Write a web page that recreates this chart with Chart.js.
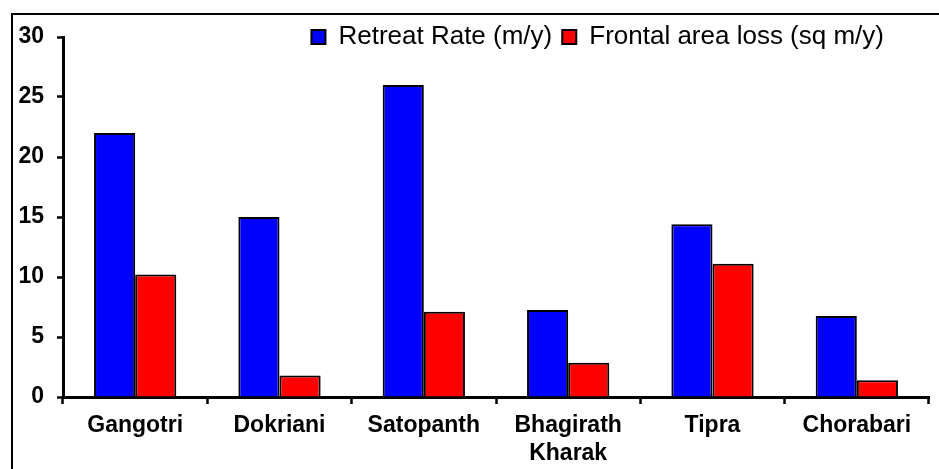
<!DOCTYPE html>
<html>
<head>
<meta charset="utf-8">
<title>Glacier retreat</title>
<script src="https://cdn.jsdelivr.net/npm/chart.js@4.4.1/dist/chart.umd.min.js"></script>
<style>
  html, body { margin: 0; padding: 0; background: #fff; overflow: hidden; }
  #wrap { position: relative; width: 939px; height: 469px; }
  #frame { position: absolute; left: 11px; top: 13px; width: 1000px; height: 1000px; border: 2px solid #000; }
  #retreatChart { position: absolute; left: 0; top: 0; }
</style>
</head>
<body>
<div id="wrap">
  <div id="frame"></div>
  <canvas id="retreatChart" width="939" height="469"></canvas>
</div>
<script>
// ─── Data ─────────────────────────────────────────────────────────────────────
const glaciers        = ["Gangotri", "Dokriani", "Satopanth", ["Bhagirath", "Kharak"], "Tipra", "Chorabari"];
const retreatRate     = [22, 15, 26, 7.25, 14.4, 6.75];   // m/y
const frontalAreaLoss = [10.2, 1.8, 7.1, 2.85, 11.1, 1.4]; // sq m/y
const yMin = 0, yMax = 30, yStep = 5;

Chart.defaults.font.family = "'Liberation Sans', Arial, sans-serif";
Chart.defaults.color = "#000";

// legend sits on top of the plot area, so squeeze its box and pull it in from the right
const legendInPlot = {
  id: "legendInPlot",
  beforeInit(chart) {
    const legend = chart.legend;
    const fit = legend.fit;
    legend.fit = function () { fit.call(this); this.height = 23; };
  },
  afterLayout(chart) {
    chart.legend.right -= 35;
    chart.legend.bottom += 30; // let the text overhang the plot without being clipped
  }
};

const axisTicks = (len) => ({
  drawOnChartArea: false,
  drawTicks: true,
  tickLength: len,
  tickWidth: 2.5,
  tickColor: "#000"
});

new Chart(document.getElementById("retreatChart"), {
  type: "bar",
  data: {
    labels: glaciers,
    datasets: [
      { label: "Retreat Rate (m/y)", data: retreatRate, backgroundColor: "#0000ff", borderColor: "#000", borderWidth: 2 },
      { label: "Frontal area loss (sq m/y)", data: frontalAreaLoss, backgroundColor: "#ff0000", borderColor: "#000", borderWidth: 2 }
    ]
  },
  options: {
    responsive: false,
    animation: false,
    layout: { padding: { top: 14, right: 10, left: 0, bottom: 0 } },
    datasets: { bar: { barPercentage: 1, categoryPercentage: 0.57 } },
    plugins: {
      tooltip: { enabled: false },
      legend: {
        position: "top",
        align: "end",
        labels: { boxWidth: 14, boxHeight: 14, padding: 10, color: "#000", font: { size: 26 } }
      }
    },
    scales: {
      x: {
        grid: axisTicks(7),
        border: { display: true, color: "#000", width: 3 },
        ticks: { font: { size: 23, weight: "bold" }, padding: 8, maxRotation: 0, autoSkip: false },
        afterFit: s => { s.height = 72; }
      },
      y: {
        min: yMin,
        max: yMax,
        grid: axisTicks(6),
        border: { display: true, color: "#000", width: 3 },
        ticks: { stepSize: yStep, font: { size: 23, weight: "bold" }, padding: 13 },
        afterFit: s => { s.width = 63; }
      }
    }
  },
  plugins: [legendInPlot]
});
</script>
</body>
</html>
